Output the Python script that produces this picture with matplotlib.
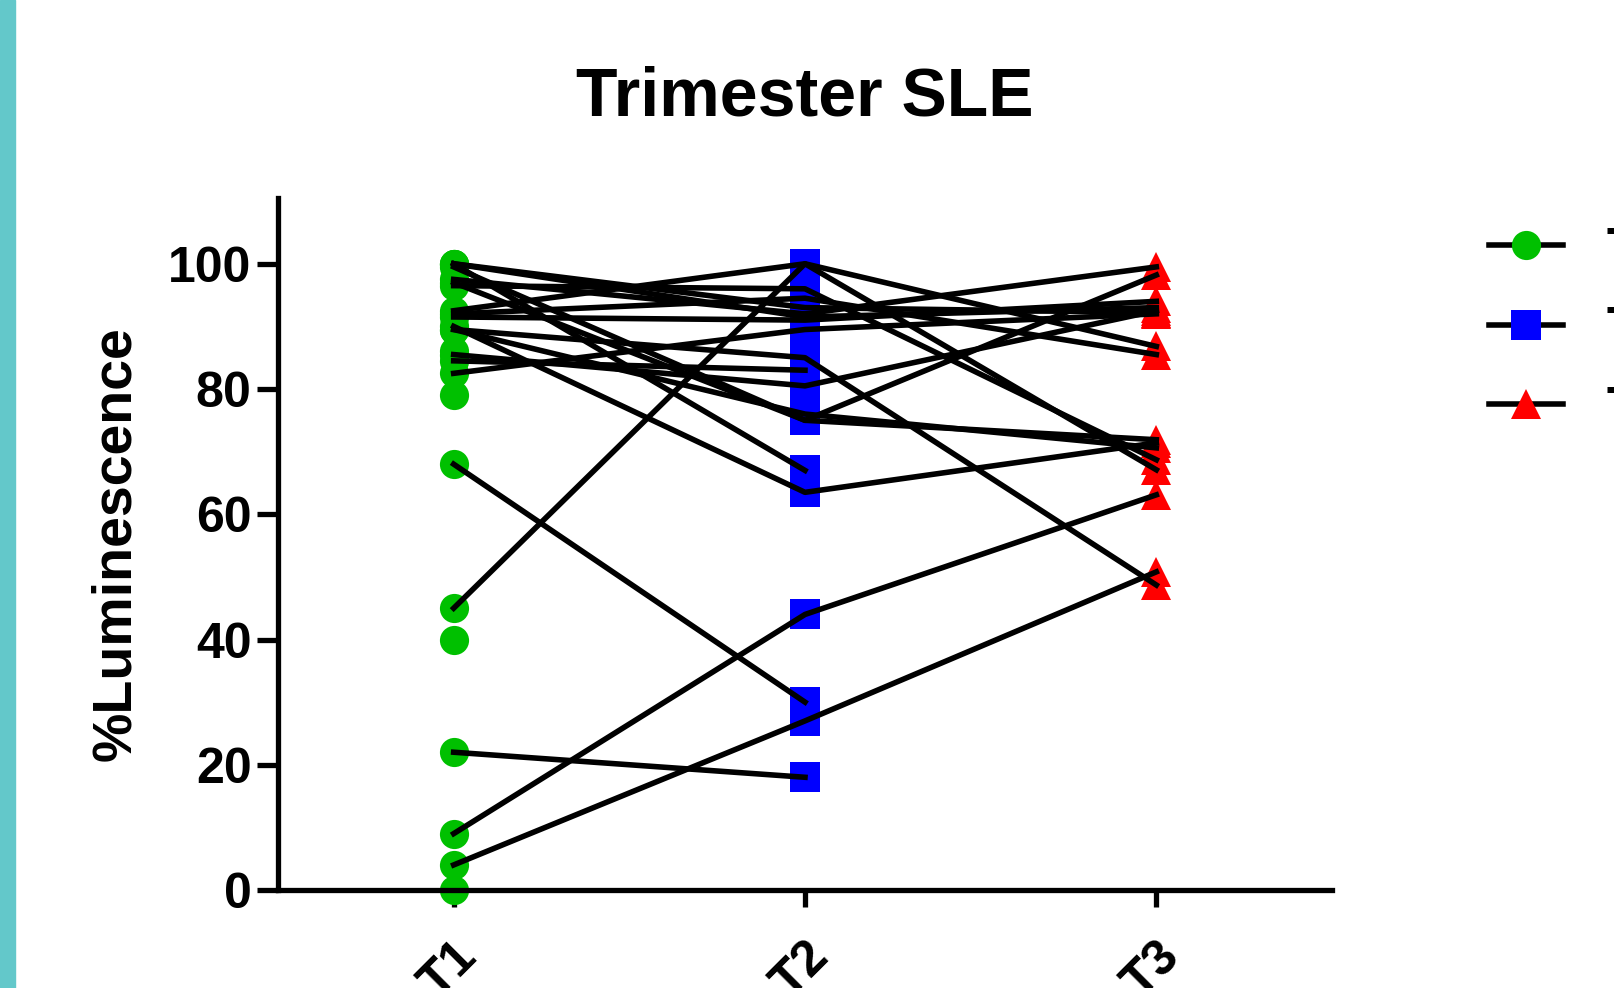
import numpy as np
import matplotlib
matplotlib.use('Agg')
import matplotlib.pyplot as plt
import matplotlib.transforms as mtransforms
from matplotlib.lines import Line2D
from matplotlib.patches import Rectangle

plt.rcParams['font.family'] = ['Liberation Sans', 'DejaVu Sans']
plt.rcParams['font.weight'] = 'bold'

nan = np.nan

groups = ['T1', 'T2', 'T3']
# one entry per subject, nan = no measurement at that trimester
t1 = [100, 100, 99.5, 97.5, 96.5, 92.5, 91.5, 90, 89.5, 89.5, 85.5, 84.5, 82.5,
      68, 45, 22, 9, 4, 97, 92, 100, 86, 79, 40, 0]
t2 = [93, 67, 75, 92, 96, 100, 91, 63.5, 76, 85, 80.5, 83, 89.5,
      30, 100, 18, 44, 27, 75, 94.5, 91.5, nan, nan, nan, nan]
t3 = [92.2, nan, 98.2, 99.5, 68.7, 86.8, 94, 71.4, 70.6, 48.7, 92.5, nan, 92,
      nan, 67.1, nan, 63.1, 50.8, 71.9, 85.5, 93, nan, nan, nan, nan]

colors = ['#00C000', '#0000FF', '#FF0000']
markers = ['o', 's', '^']

W, H = 1615, 988
fig = plt.figure(figsize=(W / 100, H / 100), dpi=100)
fig.patches.append(Rectangle((0, 0), 15 / W, 1, transform=fig.transFigure,
                             color='#63C8CA', zorder=0))

ax = fig.add_axes([278 / W, 1 - 890 / H, (1332 - 278) / W, (890 - 198) / H])

x = np.arange(3)
for a, b, c in zip(t1, t2, t3):
    ax.plot(x, [a, b, c], color='black', lw=4, zorder=3, clip_on=False)

for i, vals in enumerate([t1, t2, t3]):
    ax.plot(np.full(len(vals), i), vals, linestyle='none', marker=markers[i],
            color=colors[i], ms=21, mew=0, zorder=2, clip_on=False)

ax.set_xlim(-0.5, 2.5)
ax.set_ylim(0, 110.5)
ax.set_yticks(range(0, 101, 20))
ax.set_xticks(x)
ax.set_xticklabels(groups, rotation=45, ha='right', rotation_mode='anchor')

# nudge rotated tick labels a little to the left
shift = mtransforms.ScaledTranslation(-0.08, 0, fig.dpi_scale_trans)
for lab in ax.get_xticklabels():
    lab.set_transform(lab.get_transform() + shift)

for s in ['top', 'right']:
    ax.spines[s].set_visible(False)
for s in ['left', 'bottom']:
    ax.spines[s].set_linewidth(3.8)

ax.tick_params(axis='y', length=15, width=3.8, labelsize=36, pad=4)
ax.tick_params(axis='x', length=12, width=3.8, labelsize=36, pad=19)

ax.set_ylabel('%Luminescence', fontsize=40, fontweight='bold', labelpad=19)

fig.text(805 / W, 1 - 116 / H, 'Trimester SLE', ha='center', va='baseline',
         fontsize=49, fontweight='bold')

handles = [Line2D([], [], color='black', lw=4, marker=markers[i],
                  mfc=colors[i], mec=colors[i], ms=21, mew=0)
           for i in range(3)]
fig.legend(handles, groups, loc='upper left',
           bbox_to_anchor=(1489 / W, 1 - 227 / H), frameon=False,
           fontsize=36, handlelength=1.48, handletextpad=0.88,
           labelspacing=0.67, borderpad=0, borderaxespad=0)

fig.savefig('out.png', dpi=100)
